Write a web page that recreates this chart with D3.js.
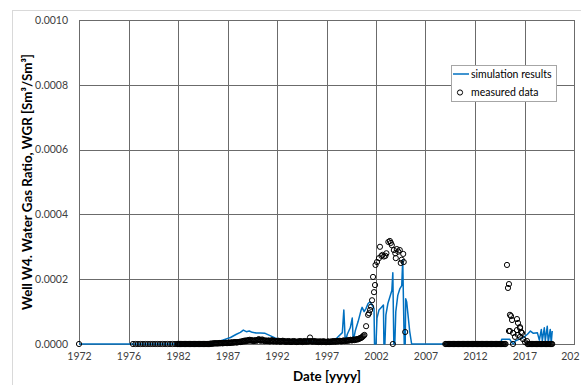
<!DOCTYPE html>
<html><head><meta charset="utf-8">
<script src="https://cdn.jsdelivr.net/npm/d3@7"></script>
<style>
html,body{margin:0;padding:0;background:#fff;}
svg{display:block;}
text{font-family:Lato,"Open Sans",sans-serif;}
</style></head>
<body>
<svg id="c" width="581" height="385"></svg>
<script>
// ---------- DATA ----------
const xTickValues = [1972,1977,1982,1987,1992,1997,2002,2007,2012,2017,2022];
const xTickLabels = ["1972","1976","1982","1987","1992","1997","2002","2007","2012","2017","202"];
const yTickValues = [0,0.0002,0.0004,0.0006,0.0008,0.0010];
const yTickLabels = ["0.0000","0.0002","0.0004","0.0006","0.0008","0.0010"];
const valueUnit = 1e-5; // WGR values below are listed in units of 1e-5 Sm3/Sm3

// simulation results: [decimal year, WGR (1e-5)]
const simYears = [1972,1985.0,1985.23,1985.8,1986.5,1987.3,1987.9,1988.3,1988.6,1988.9,1989.2,1989.5,1989.9,1990.3,1990.8,1991.3,1991.8,1992.3,1992.8,1993.5,1994.3,1995.1,1995.8,1996.5,1997.0,1997.6,1998.1,1998.6,1998.75,1998.9,1999.1,1999.4,1999.6,1999.7,1999.9,2000.2,2000.5,2000.6,2000.8,2001.0,2001.2,2001.4,2001.6,2001.8,2001.85,2002.0,2002.1,2002.3,2002.6,2002.75,2002.8,2002.9,2003.0,2003.2,2003.4,2003.6,2003.7,2003.8,2003.9,2004.0,2004.2,2004.4,2004.6,2004.7,2004.85,2004.95,2005.0,2005.1,2005.2,2005.4,2005.6,2014.6,2014.7,2015.1,2015.5,2015.7,2015.9,2016.1,2016.5,2016.9,2017.3,2017.6,2017.9,2018.3,2018.5,2018.7,2018.8,2019.0,2019.1,2019.3,2019.4,2019.6,2019.7,2019.8];
const simWGR   = [0,0,0,0.5,1.2,2.0,3.0,3.6,4.3,3.8,4.0,3.6,3.4,3.4,3.3,2.6,1.9,1.4,1.2,1.0,0.9,0.9,0.6,0.5,0.5,0.9,2.0,3.5,10.5,0.5,3.0,5.0,8.0,0.8,4.0,7.0,10.5,11.3,10.0,11.0,12.5,13.0,12.0,11.0,0,0,8,10.5,11.5,12,0,0,9,12.5,14.5,16.5,22,0,0,10,15,17,18,26,0,0,14,13,10,4,0,0,1.5,1.5,1.5,0.5,0,1.0,1.5,2.0,3.0,4.0,3.3,3.5,1.2,4.5,1.0,5.0,1.0,5.5,0.5,4.5,0.3,4.0];

// measured data
const measFirstYear = [1972];
const measFirstWGR = [0];
// quarterly readings 1977.45 - 1981.95
const measQuarterStart = 1977.45;
const measQuarterWGR = [0,0,0,0,0,0,0,0,0,0,0,0,0,0,0,0,0,0,0];
// monthly readings from 1982.0
const measMonthlyStart = 1982.0;
const measMonthlyWGR = [
0,0,0,0,0,0,0,0,0,0,0,0,
0,0,0,0,0,0,0,0,0,0,0,0,
0,0,0,0,0,0,0,0,0,0,0,0,
0,0,0,0.1,0.1,0.1,0.1,0.2,0.2,0.2,0.2,0.2,
0.2,0.2,0.3,0.2,0.3,0.3,0.2,0.3,0.3,0.3,0.4,0.3,
0.3,0.4,0.4,0.3,0.5,0.4,0.5,0.4,0.5,0.6,0.5,0.5,
0.5,0.6,0.6,0.7,0.6,0.8,0.7,0.9,1.0,0.8,1.1,0.9,
1.0,1.2,1.1,1.3,1.0,1.2,1.1,1.0,0.9,1.1,1.2,1.0,
1.1,1.3,1.5,1.2,1.0,1.1,1.4,1.2,1.0,0.9,1.1,1.0,
0.9,1.0,1.1,0.8,0.9,1.0,1.2,0.9,0.8,1.0,0.9,0.8,
0.8,0.9,1.0,0.8,0.7,0.9,0.8,1.0,0.9,0.8,0.7,0.8,
0.7,0.8,0.9,0.7,0.8,0.6,0.7,0.8,0.9,0.7,0.8,0.7,
0.6,0.7,0.8,0.7,0.9,0.8,0.7,0.6,0.8,0.9,0.7,0.8,
0.8,0.7,0.9,0.8,2.0,0.9,0.8,0.7,0.8,0.9,0.8,0.7,
0.7,0.8,0.6,0.7,0.8,0.7,0.6,0.8,0.7,0.8,0.7,0.6,
0.6,0.7,0.8,0.7,0.6,0.7,0.8,0.7,0.8,0.9,0.7,0.8,
0.8,0.9,0.8,0.9,1.0,0.9,0.8,0.9,1.0,1.1,0.9,1.0,
1.0,1.1,1.0,1.2,1.1,1.3,1.2,1.1,1.3,1.4,1.2,1.3,
1.4,1.5,1.4,1.6,1.7,1.8,1.9,2.1,2.3,2.6,2.8];
// high readings 2001-2005
const measHighYears = [2001.0,2001.2,2001.3,2001.4,2001.5,2001.6,2001.7,2001.8,2001.9,2001.95,2002.1,2002.3,2002.4,2002.55,2002.65,2002.8,2002.95,2003.05,2003.25,2003.4,2003.5,2003.6,2003.7,2003.8,2003.95,2004.0,2004.1,2004.25,2004.4,2004.5,2004.6,2004.75,2004.8,2004.95];
const measHighWGR   = [5.5,9.0,9.5,10.5,11.5,13.5,20.7,16.0,18.2,24.4,25.3,26.5,30.0,27.2,27.5,27.0,27.2,28.0,31.5,31.8,31.2,30.5,0,29.0,28.0,26.5,29.3,28.5,29.0,25.0,26.0,27.8,25.3,3.7];
// monthly readings 2009.0 - 2015.1
const measLateStart = 2009.0;
const measLateWGR = [
0,0,0,0,0,0,0,0,0,0,0,0,
0,0,0,0,0,0,0,0,0,0,0,0,
0,0,0,0,0,0,0,0,0,0,0,0,
0,0,0,0,0,0,0,0,0,0,0,0,
0,0,0,0,0,0,0,0,0,0,0,0,
0,0,0,0,0,0,0,0,0,0,0,0,0,0];
// readings 2015-2017
const measRecentYears = [2015.23,2015.33,2015.43,2015.53,2015.64,2015.74,2015.43,2015.53,2015.84,2016.04,2015.84,2016.24,2016.34,2016.24,2016.55,2016.55,2016.65,2016.34,2016.55,2016.75,2016.85,2017.05,2017.25];
const measRecentWGR   = [24.4,17.3,18.5,9.0,8.6,7.4,4.0,4.0,3.4,2.2,0,7.7,6.5,4.3,5.2,4.9,3.7,2.8,2.2,3.4,1.5,0.6,0.9];
// monthly readings 2017.3 - 2019.8
const measEndStart = 2017.3;
const measEndWGR = [0,0,0,0,0,0,0,0,0,0,0,0,0,0,0,0,0,0,0,0,0,0,0,0,0,0,0,0,0,0,0];

// ---------- BUILD ----------
const sim = simYears.map((y,i)=>({x:y, v:simWGR[i]*valueUnit}));
const meas = [];
measFirstYear.forEach((y,i)=>meas.push({x:y, v:measFirstWGR[i]*valueUnit}));
measQuarterWGR.forEach((v,i)=>meas.push({x:measQuarterStart+i/4, v:v*valueUnit}));
measMonthlyWGR.forEach((v,i)=>meas.push({x:measMonthlyStart+i/12, v:v*valueUnit}));
measHighYears.forEach((y,i)=>meas.push({x:y, v:measHighWGR[i]*valueUnit}));
measLateWGR.forEach((v,i)=>meas.push({x:measLateStart+i/12, v:v*valueUnit}));
measRecentYears.forEach((y,i)=>meas.push({x:y, v:measRecentWGR[i]*valueUnit}));
measEndWGR.forEach((v,i)=>meas.push({x:measEndStart+i/12, v:v*valueUnit}));

const svg = d3.select("#c");
const L=79, R=574, T=20, B=344;
const x = d3.scaleLinear().domain([1972,2022]).range([L,R]);
const y = d3.scaleLinear().domain([0,0.001]).range([B,T]);

// chart area border
svg.append("rect").attr("x",12.5).attr("y",10.5).attr("width",600).attr("height",400)
  .attr("fill","#fff").attr("stroke","#d9d9d9");

// grid
const grid = svg.append("g");
grid.selectAll("line.v").data(xTickValues).join("line")
  .attr("x1",d=>Math.round(x(d))+0.5).attr("x2",d=>Math.round(x(d))+0.5)
  .attr("y1",T).attr("y2",B).attr("stroke","#6b6b6b").attr("stroke-width",1);
grid.selectAll("line.h").data(yTickValues).join("line")
  .attr("y1",d=>Math.round(y(d))+0.5).attr("y2",d=>Math.round(y(d))+0.5)
  .attr("x1",L).attr("x2",R+1).attr("stroke","#6b6b6b").attr("stroke-width",1);

// axes labels via d3 axes
const xAxis = d3.axisBottom(x).tickValues(xTickValues).tickFormat((d,i)=>xTickLabels[i]).tickSize(0).tickPadding(9);
const gx = svg.append("g").attr("transform",`translate(0,${B})`).call(xAxis);
gx.select(".domain").remove();
gx.selectAll("text").attr("font-family","Lato, sans-serif").attr("font-size",10.5).attr("fill","#404040");
gx.selectAll(".tick").filter((d,i)=>i===xTickValues.length-1).select("text").attr("text-anchor","end").attr("x",5);

const yAxis = d3.axisLeft(y).tickValues(yTickValues).tickFormat((d,i)=>yTickLabels[i]).tickSize(0).tickPadding(11);
const gy = svg.append("g").attr("transform",`translate(${L},0)`).call(yAxis);
gy.select(".domain").remove();
gy.selectAll("text").attr("font-family","Lato, sans-serif").attr("font-size",10.5).attr("fill","#404040");

// simulation line
svg.append("path").datum(sim)
  .attr("d", d3.line().x(d=>x(d.x)).y(d=>y(d.v)))
  .attr("fill","none").attr("stroke","#0070C0").attr("stroke-width",1.5).attr("stroke-linejoin","round");

// measured circles
svg.append("g").selectAll("circle").data(meas).join("circle")
  .attr("cx",d=>x(d.x)).attr("cy",d=>y(d.v)).attr("r",2.6)
  .attr("fill","none").attr("stroke","#000").attr("stroke-width",1);

// axis titles
svg.append("text").attr("x",327).attr("y",381).attr("text-anchor","middle")
  .attr("font-size",14).attr("font-weight","bold").attr("fill","#000")
  .attr("textLength",68).attr("lengthAdjust","spacingAndGlyphs").text("Date [yyyy]");
svg.append("text").attr("transform","translate(32,182) rotate(-90)").attr("text-anchor","middle")
  .attr("font-size",13.5).attr("font-weight","bold").attr("fill","#000")
  .attr("textLength",256).attr("lengthAdjust","spacingAndGlyphs")
  .text("Well W4. Water Gas Ratio, WGR [Sm³/Sm³]");

// legend
const lg = svg.append("g");
lg.append("rect").attr("x",451.5).attr("y",65.5).attr("width",105).attr("height",36)
  .attr("fill","#fff").attr("stroke","#a6a6a6");
lg.append("line").attr("x1",453).attr("x2",469).attr("y1",74).attr("y2",74)
  .attr("stroke","#0070C0").attr("stroke-width",1.5);
lg.append("text").attr("x",471).attr("y",77.5).attr("font-size",10.5).attr("fill","#000").text("simulation results");
lg.append("circle").attr("cx",460).attr("cy",92.5).attr("r",2.6).attr("fill","none").attr("stroke","#000").attr("stroke-width",1);
lg.append("text").attr("x",471).attr("y",96).attr("font-size",10.5).attr("fill","#000").text("measured data");
</script>
</body></html>
